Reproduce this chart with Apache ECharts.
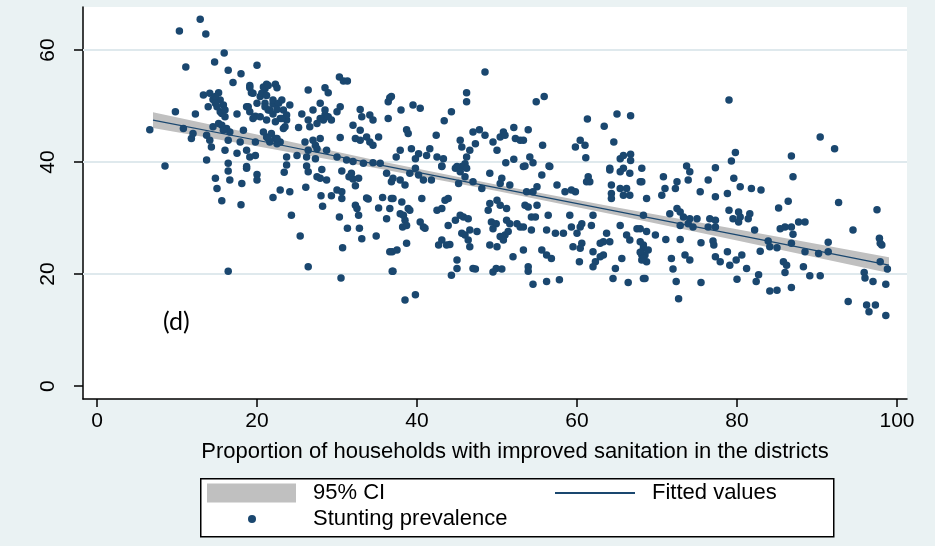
<!DOCTYPE html>
<html>
<head>
<meta charset="utf-8">
<script src="https://cdn.jsdelivr.net/npm/echarts@6/dist/echarts.min.js"></script>
<style>
  html, body { margin: 0; padding: 0; background: #eaf2f3; }
  #chart { width: 935px; height: 546px; }
</style>
</head>
<body>
<div id="chart"></div>
<script>
// District-level improved sanitation (%) and child stunting prevalence (%)
const sanitation = [
  12.9,10.3,13.6,15.9,14.7,11.1,20.0,16.4,18.0,17.0,30.3,30.8,31.3,21.2,22.3,22.5,21.0,19.1,19.3,26.4,
  28.5,28.9,36.6,36.4,13.3,14.1,15.2,15.4,14.5,15.8,13.9,15.0,20.4,20.0,21.0,22.0,23.1,24.1,27.9,27.0,
  30.4,30.0,32.9,34.1,33.1,34.5,9.8,12.3,15.4,16.0,17.5,18.7,19.1,19.8,21.4,22.0,22.9,23.7,25.6,26.4,
  28.5,28.3,29.3,36.4,6.6,10.8,11.8,12.0,13.7,14.1,14.5,15.2,16.2,16.6,16.4,18.3,17.9,19.8,20.8,21.2,
  21.8,22.3,22.9,23.3,21.6,22.5,25.2,26.0,27.0,27.9,27.3,30.4,32.0,32.9,33.7,34.1,34.5,35.2,32.3,32.9,
  14.3,16.0,17.5,18.7,19.1,19.8,23.7,25.0,26.2,27.3,26.4,27.5,28.7,30.0,31.2,32.0,33.3,34.5,35.4,8.5,
  13.7,16.4,18.7,23.7,26.2,
  48.5,46.2,46.2,36.8,54.9,55.9,39.5,40.4,38.0,44.3,43.4,61.3,65.0,66.7,63.4,38.7,38.9,42.4,47.0,47.8,
  48.5,50.8,50.4,51.0,52.1,53.9,52.3,52.9,53.3,49.5,50.0,45.4,45.6,55.7,59.8,60.4,61.0,64.6,61.1,37.9,
  37.4,39.3,40.2,39.8,41.2,41.6,42.5,43.3,43.1,46.6,46.2,46.0,45.6,45.0,47.3,51.1,52.1,53.5,54.1,54.5,
  56.5,65.4,65.8,66.7,66.7,64.1,65.8,68.1,
  79.0,90.4,92.2,79.8,79.3,86.8,73.7,77.3,
  14.8,15.0,16.4,16.6,18.7,20.0,20.0,18.1,15.6,18.0,23.4,22.9,22.0,24.1,26.4,26.1,28.1,27.5,27.9,28.7,
  30.6,31.5,32.0,32.7,32.3,31.8,30.0,30.6,30.6,28.0,29.3,28.2,32.3,32.5,32.7,33.7,33.9,35.7,35.2,36.2,
  36.8,36.2,36.8,24.3,30.3,31.3,32.8,33.1,34.9,25.4,30.7,36.9,36.9,16.4,26.4,30.5,
  37.0,37.9,38.5,39.1,39.8,40.2,40.8,41.8,43.1,44.8,46.2,45.4,46.0,45.2,47.0,48.1,49.1,50.6,50.4,51.6,
  53.3,55.6,56.6,55.0,54.5,53.7,57.5,58.5,59.3,59.8,61.4,61.6,61.2,64.1,65.4,66.6,67.9,64.3,65.4,64.3,
  64.3,66.2,65.8,66.6,37.0,38.1,38.9,40.6,36.6,37.9,38.3,39.1,38.5,38.2,38.7,40.4,40.8,41.0,42.5,43.1,
  43.5,43.9,43.9,44.8,45.4,45.8,46.4,45.6,46.0,46.6,47.5,46.4,46.6,43.1,42.7,43.7,44.1,36.6,37.5,38.7,
  48.9,49.1,50.0,50.4,49.3,49.9,51.2,51.6,52.5,52.9,53.3,51.2,53.5,53.9,55.0,54.3,54.8,49.1,50.0,50.4,
  51.0,51.4,50.8,49.5,54.3,56.2,57.3,58.3,56.4,59.1,59.3,60.0,60.4,60.6,61.8,62.0,63.7,63.3,62.9,64.1,
  59.5,60.6,60.4,62.0,63.3,62.9,62.3,62.0,65.4,66.2,66.6,67.5,67.9,68.3,68.1,65.6,64.8,64.5,66.4,68.3,
  55.6,56.2,56.8,52.0,53.3,53.9,53.9,45.0,45.0,44.3,47.0,47.3,49.5,49.9,50.6,54.5,56.2,57.8,60.3,38.5,
  39.8,37.0,
  74.1,73.9,72.5,72.3,70.8,71.0,70.6,68.1,68.7,75.4,76.4,77.3,78.8,79.6,80.4,81.8,83.0,87.0,79.0,80.2,
  80.4,81.6,81.4,79.5,80.2,72.5,72.9,73.3,74.1,75.0,73.9,74.5,72.9,76.6,77.3,76.4,77.3,71.6,68.3,85.2,
  86.4,92.7,97.5,85.4,86.0,86.8,87.0,87.7,88.5,82.2,94.5,67.9,68.7,69.8,71.1,72.9,75.5,77.0,77.1,83.9,
  84.1,85.0,86.8,88.5,90.2,91.4,91.4,78.8,77.3,77.9,80.6,79.9,79.1,81.2,73.5,74.1,71.8,72.0,68.3,68.5,
  68.7,68.1,82.9,82.7,82.4,85.8,86.2,86.0,88.3,89.1,90.4,97.9,98.8,97.9,97.8,98.1,95.9,96.0,97.0,98.6,
  68.5,72.4,75.5,80.0,84.1,85.0,86.8,72.7,93.9,96.2,97.3,96.5,98.6,
  14.8,14.8,15.6,16.0,15.6,15.8,19.1,19.5,18.9,19.5,20.8,21.4,20.6,21.2,22.0,22.7,23.3,23.7,21.0,21.6,
  22.5,23.1,20.4,21.2,22.3,21.4,22.5,23.5,28.5,27.9,27.5,26.6,28.9,67.9,68.3,68.9
];
const stunting = [
  65.5,63.4,62.9,59.5,57.9,57.0,57.3,56.4,55.8,54.2,55.2,54.5,54.5,53.9,53.9,53.3,53.1,53.3,52.4,52.9,
  53.3,52.4,51.5,50.8,52.0,52.3,52.4,51.1,51.2,50.2,49.9,49.9,51.7,50.5,50.5,50.4,51.1,50.2,50.5,49.3,
  49.9,49.0,49.4,48.4,48.1,47.5,49.0,48.6,49.0,48.1,48.6,49.9,49.0,48.2,49.3,48.6,47.8,47.5,48.6,47.5,
  48.4,47.5,47.5,47.8,45.8,46.0,44.2,45.1,44.8,43.9,46.3,46.9,46.0,45.4,43.9,45.7,43.6,43.6,45.4,44.5,
  45.1,44.2,43.6,46.0,43.6,43.3,46.2,43.6,43.9,44.2,43.0,44.4,46.6,45.7,44.5,43.6,43.0,44.5,44.2,43.9,
  42.7,42.1,41.6,42.1,40.9,41.2,40.9,41.2,40.9,40.6,42.1,42.4,42.1,40.9,40.4,40.1,39.8,39.9,39.8,39.3,
  40.4,39.8,39.2,39.5,39.3,
  56.1,52.4,50.8,51.7,50.8,51.7,50.2,49.6,49.3,49.0,47.4,47.7,48.6,48.3,46.4,45.8,45.1,44.8,45.4,45.8,
  44.8,45.4,44.5,44.8,46.2,45.8,44.2,43.9,43.9,43.6,42.1,43.9,42.7,43.0,42.7,43.9,43.0,43.6,40.8,42.1,
  40.9,42.4,41.5,40.6,41.2,42.4,40.9,40.6,39.3,42.1,40.9,39.7,39.2,39.2,43.3,39.9,40.5,39.3,40.9,39.9,
  39.3,40.6,41.2,41.4,40.3,38.9,38.9,38.9,
  51.1,44.5,42.4,41.7,40.2,41.1,39.3,39.0,
  37.1,35.3,38.4,36.8,38.9,37.8,36.8,36.2,33.1,32.4,38.2,35.0,33.7,34.7,38.3,35.5,38.7,37.4,37.1,36.8,
  38.4,37.4,37.0,37.1,35.8,38.0,35.0,34.7,33.5,34.0,34.0,32.1,32.3,31.7,30.5,33.6,33.4,33.7,31.8,29.9,
  36.5,38.0,33.5,30.5,30.2,28.2,28.2,26.3,26.8,26.8,24.7,24.0,20.5,20.5,21.3,19.3,
  37.1,36.8,35.9,38.0,38.9,37.7,36.8,36.8,39.2,38.9,38.9,38.3,37.4,36.2,36.5,35.3,38.0,37.1,36.2,35.9,
  39.2,37.7,39.2,35.6,34.7,34.7,35.9,34.7,35.0,34.7,37.4,36.5,36.5,38.6,38.3,38.0,36.5,35.9,35.3,34.4,
  33.5,35.3,34.1,34.1,33.5,32.9,31.7,33.5,31.7,30.8,30.5,31.4,29.6,28.4,28.7,29.3,28.4,28.2,31.4,31.7,
  33.2,33.5,28.7,29.6,30.5,30.2,29.9,27.3,27.0,27.9,27.6,26.1,24.9,26.1,25.2,25.2,25.3,24.0,24.3,25.5,
  31.4,32.6,33.2,32.3,29.3,29.0,29.6,29.0,29.0,28.4,28.4,31.7,32.3,32.0,32.3,30.2,30.2,25.2,24.9,26.7,
  27.0,27.6,26.1,28.1,27.9,27.9,27.3,27.3,30.5,30.5,28.4,27.3,28.4,29.0,28.7,30.5,27.3,25.8,25.5,25.8,
  24.9,25.5,24.6,24.0,23.4,23.1,22.2,21.3,28.7,27.0,26.1,28.1,25.8,25.2,23.4,22.8,21.0,19.2,18.5,19.2,
  24.3,23.4,22.8,23.1,24.3,21.3,20.5,22.5,21.0,19.8,21.0,20.9,20.4,21.0,20.9,18.2,18.7,19.0,22.2,15.4,
  16.3,20.5,
  38.3,36.8,36.5,35.3,37.4,35.3,34.1,36.5,33.5,34.7,36.8,33.8,34.4,37.1,35.6,35.3,35.0,37.4,31.4,31.1,
  30.2,30.8,29.9,29.9,29.3,31.7,31.1,30.2,29.9,29.9,29.0,28.4,28.7,29.9,29.6,28.4,28.4,30.8,30.5,31.8,
  33.0,32.8,31.5,28.1,28.4,28.4,27.1,29.3,29.3,27.9,27.9,28.1,27.6,27.0,26.2,26.2,25.6,25.9,25.2,25.9,
  24.9,24.7,25.5,24.0,23.7,25.7,24.0,24.0,23.1,22.2,23.4,22.5,21.6,21.0,23.4,22.5,22.8,20.9,24.6,23.4,
  22.2,22.5,24.1,19.9,18.7,22.2,21.6,20.3,21.3,19.7,19.7,22.2,20.9,25.5,26.4,25.2,20.3,19.3,18.7,18.2,
  19.2,18.7,18.5,19.1,17.0,17.1,17.6,15.6,15.1,14.5,14.5,13.3,12.6,
  51.7,50.5,48.7,49.3,46.6,45.7,53.7,52.3,49.9,47.8,53.4,53.7,52.3,51.9,51.1,50.5,49.3,48.4,49.9,49.3,
  49.4,47.8,48.1,47.5,47.2,44.2,44.2,46.3,49.3,47.8,46.9,46.3,48.1,23.9,22.9,24.3
];

// Linear fit and its 95% confidence band
const fitX = [7, 20, 35, 50, 65, 80, 99];
const fitY = [47.5, 43.9, 39.6, 35.4, 31.2, 27.0, 21.6];
const ciLow = [46.1, 42.85, 38.9, 34.85, 30.5, 26.0, 20.2];
const ciHigh = [48.9, 44.95, 40.3, 35.95, 31.9, 28.0, 23.0];

// Axis ticks and horizontal grid lines
const xTicks = [0, 20, 40, 60, 80, 100];
const yTicks = [0, 20, 40, 60];
const yGrid = [20, 40, 60];

const NAVY = '#1a476f';
const BAND = '#c0c0c0';
const FONT = "'Liberation Sans', Arial, sans-serif";

const points = sanitation.map((x, i) => [x, stunting[i]]);
const bandRows = fitX.map((x, i) => [x, ciLow[i], ciHigh[i]]);
const fitPts = fitX.map((x, i) => [x, fitY[i]]);

// Confidence band drawn as one polygon: upper edge forward, lower edge back
function renderBand(params, api) {
  if (params.dataIndex !== 0) return;
  const upper = bandRows.map(r => api.coord([r[0], r[2]]));
  const lower = bandRows.map(r => api.coord([r[0], r[1]])).reverse();
  return {
    type: 'polygon',
    shape: { points: upper.concat(lower) },
    style: { fill: BAND }
  };
}

const chart = echarts.init(document.getElementById('chart'));
const legendText = { fontFamily: FONT, fontSize: 22, color: '#000', padding: [0, 0, 0, 12] };

chart.setOption({
  animation: false,
  backgroundColor: '#eaf2f3',
  grid: {
    left: 83, right: 28, top: 7, bottom: 147,
    show: true, backgroundColor: '#ffffff', borderWidth: 0
  },
  xAxis: {
    type: 'value',
    min: -1.75, max: 101.25,
    name: 'Proportion of households with improved sanitation in the districts',
    nameLocation: 'middle',
    nameGap: 42,
    nameTextStyle: { fontFamily: FONT, fontSize: 22, color: '#000', padding: [0, 0, 0, 40] },
    axisLine: { show: true, onZero: false, lineStyle: { color: '#000', width: 1.5 } },
    axisTick: { show: true, length: 8, customValues: xTicks, lineStyle: { color: '#000', width: 1.5 } },
    axisLabel: { customValues: xTicks, margin: 12, fontFamily: FONT, fontSize: 21, color: '#000' },
    splitLine: { show: false }
  },
  yAxis: {
    type: 'value',
    min: -2.3, max: 67.7,
    axisLine: { show: true, onZero: false, lineStyle: { color: '#000', width: 1.5 } },
    axisTick: { show: true, length: 9, customValues: yTicks, lineStyle: { color: '#000', width: 1.5 } },
    axisLabel: { customValues: yTicks, rotate: 90, margin: 24, fontFamily: FONT, fontSize: 21, color: '#000' },
    splitLine: { show: false }
  },
  legend: [
    {
      data: [{ name: '95% CI', icon: 'rect', itemStyle: { color: BAND, borderWidth: 0 } }],
      left: 207, top: 482, padding: 0, itemWidth: 89, itemHeight: 19,
      selectedMode: false, textStyle: legendText
    },
    {
      data: [{ name: 'Fitted values', icon: 'rect', itemStyle: { color: NAVY, borderWidth: 0 } }],
      left: 555, top: 482, padding: 0, itemWidth: 80, itemHeight: 2,
      selectedMode: false, textStyle: legendText
    },
    {
      data: [{ name: 'Stunting prevalence', icon: 'circle', itemStyle: { color: NAVY, borderWidth: 0, opacity: 1 } }],
      left: 248, top: 508, padding: 0, itemWidth: 8, itemHeight: 8,
      selectedMode: false,
      textStyle: Object.assign({}, legendText, { padding: [0, 0, 0, 52] })
    }
  ],
  graphic: [
    {
      type: 'rect', left: 200, top: 478, z: -1,
      shape: { width: 633, height: 58 },
      style: { fill: '#ffffff', stroke: '#000', lineWidth: 1.5 }
    },
    {
      type: 'text', left: 163, top: 309, z: 10,
      style: { text: '(d)', font: "25px Lato, 'Open Sans', sans-serif", fill: '#000' }
    }
  ],
  series: [
    {
      name: '95% CI', type: 'custom', data: bandRows, color: BAND,
      encode: { x: 0, y: [1, 2] },
      renderItem: renderBand, z: 2, silent: true
    },
    {
      name: 'Fitted values', type: 'line', data: fitPts, color: NAVY,
      symbol: 'none', lineStyle: { color: NAVY, width: 1.2 }, z: 3, silent: true,
      markLine: {
        silent: true, z: 1, symbol: ['none', 'none'], label: { show: false },
        lineStyle: { color: '#dfe9ed', width: 2, type: 'solid' },
        data: yGrid.map(v => ({ yAxis: v }))
      }
    },
    {
      name: 'Stunting prevalence', type: 'scatter', data: points, color: NAVY,
      symbol: 'circle', symbolSize: 7.5, itemStyle: { color: NAVY, opacity: 1 }, z: 4
    }
  ]
});
</script>
</body>
</html>
